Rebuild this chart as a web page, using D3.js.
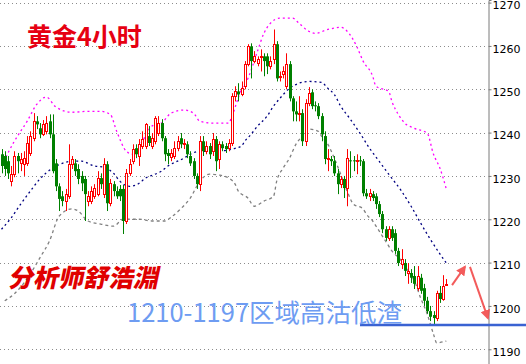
<!DOCTYPE html>
<html>
<head>
<meta charset="utf-8">
<script src="https://cdn.jsdelivr.net/npm/d3@7"></script>
<style>
  body { margin: 0; background: #fff; }
  svg { display: block; }
</style>
</head>
<body>
<svg id="chart" width="526" height="364"></svg>
<script>
// gold 4h candles
const opens = [1235.0,1234.6,1233.4,1228.8,1230.4,1234.6,1232.9,1232.7,1232.9,1235.3,
  1238.7,1242.6,1241.0,1239.6,1240.3,1242.6,1239.6,1232.9,1227.6,1225.3,
  1224.2,1225.3,1232.7,1232.9,1231.6,1230.0,1229.3,1224.2,1224.2,1225.3,
  1225.8,1229.5,1225.8,1232.7,1223.7,1228.1,1226.5,1227.0,1227.0,1219.6,
  1230.6,1233.4,1236.4,1234.6,1236.9,1236.9,1239.2,1236.9,1238.0,1239.9,
  1242.2,1238.7,1235.3,1234.3,1234.6,1236.4,1238.7,1237.3,1237.3,1234.6,
  1233.4,1230.0,1228.1,1238.0,1235.7,1236.9,1235.7,1238.5,1233.9,1237.3,
  1236.9,1236.4,1237.6,1248.4,1249.5,1248.8,1250.7,1255.8,1259.9,1256.5,
  1256.0,1257.4,1257.6,1257.6,1255.3,1256.9,1260.4,1252.8,1253.5,1250.7,
  1255.8,1247.9,1244.9,1244.2,1244.5,1238.0,1246.8,1249.3,1246.3,1246.1,
  1243.8,1239.2,1233.9,1233.9,1233.4,1230.6,1228.1,1229.3,1227.2,1233.6,
  1233.6,1233.4,1233.6,1233.4,1226.0,1225.3,1225.8,1225.3,1223.5,1221.2,
  1217.7,1215.7,1217.7,1216.8,1212.7,1209.7,1209.9,1207.6,1207.6,1206.9,
  1204.1,1206.5,1204.1,1201.2,1198.8,1197.9,1197.2,1203.0,1201.6,1204.8];
const highs = [1236.2,1235.7,1234.6,1232.3,1235.7,1235.3,1235.3,1235.7,1239.2,1240.3,
  1244.5,1243.8,1242.2,1242.9,1243.8,1244.2,1244.2,1233.9,1228.3,1226.5,
  1227.0,1237.3,1234.6,1233.9,1232.7,1231.1,1230.0,1226.5,1227.6,1228.1,
  1231.1,1230.6,1234.1,1233.4,1229.3,1228.8,1227.6,1227.9,1227.9,1231.6,
  1233.9,1237.3,1237.3,1238.5,1240.3,1242.2,1241.5,1239.9,1243.8,1243.8,
  1243.1,1239.2,1236.2,1236.2,1238.0,1239.2,1239.9,1238.5,1238.0,1235.7,
  1234.1,1230.6,1239.2,1239.2,1238.0,1237.6,1239.9,1239.2,1238.0,1238.0,
  1237.6,1238.5,1249.1,1250.7,1251.4,1251.8,1256.5,1260.4,1260.6,1258.8,
  1257.6,1259.2,1258.3,1258.3,1257.6,1263.8,1261.1,1254.1,1255.3,1258.3,
  1256.5,1248.4,1247.2,1248.4,1245.4,1247.7,1250.5,1250.0,1247.2,1246.8,
  1244.5,1240.3,1236.2,1234.6,1234.6,1231.6,1230.0,1230.0,1236.2,1235.7,
  1234.6,1235.0,1234.6,1233.9,1227.0,1227.0,1226.5,1226.0,1224.2,1221.9,
  1218.4,1218.4,1218.4,1217.7,1213.4,1213.1,1210.8,1209.9,1208.5,1209.2,
  1209.2,1207.4,1205.1,1202.1,1200.0,1198.8,1203.5,1204.6,1207.1,1206.2];
const lows = [1230.6,1230.0,1229.3,1227.6,1229.7,1230.6,1231.1,1230.0,1232.3,1234.6,
  1238.0,1240.8,1238.7,1239.2,1239.6,1238.7,1230.6,1226.5,1221.9,1223.0,
  1221.9,1224.7,1231.6,1230.0,1228.1,1226.5,1219.6,1223.0,1223.5,1224.7,
  1225.3,1227.0,1224.9,1221.9,1223.0,1225.3,1224.7,1224.2,1216.6,1218.9,
  1230.0,1232.7,1234.1,1232.3,1236.2,1236.2,1236.9,1236.2,1237.3,1239.2,
  1238.0,1233.4,1232.7,1233.4,1233.9,1235.7,1236.4,1236.2,1234.1,1232.3,
  1229.3,1227.0,1226.5,1234.6,1235.0,1233.9,1234.6,1231.1,1231.6,1235.7,
  1235.3,1235.7,1236.9,1247.2,1247.2,1248.4,1250.0,1255.3,1252.5,1256.0,
  1255.3,1254.1,1253.0,1253.5,1254.6,1255.8,1251.8,1251.8,1252.5,1250.0,
  1247.2,1242.6,1242.6,1242.6,1236.9,1236.9,1246.1,1245.4,1244.9,1243.1,
  1238.0,1232.7,1231.1,1232.3,1230.0,1225.8,1227.2,1224.9,1223.0,1229.5,
  1231.1,1230.4,1232.3,1225.3,1224.7,1224.2,1224.2,1222.4,1220.5,1216.8,
  1215.0,1215.0,1215.0,1212.0,1209.2,1208.5,1206.9,1205.1,1205.3,1203.9,
  1203.5,1202.8,1200.0,1198.2,1196.5,1195.4,1196.5,1200.7,1201.2,1204.6];
const closes = [1232.3,1231.6,1230.6,1230.4,1234.6,1233.4,1233.9,1234.1,1237.6,1239.2,
  1242.6,1241.9,1239.6,1241.9,1242.2,1239.6,1231.1,1227.6,1224.7,1224.2,
  1225.8,1232.7,1233.9,1231.1,1229.3,1228.3,1225.8,1225.3,1226.5,1227.2,
  1229.5,1228.1,1232.7,1223.7,1228.3,1226.5,1225.3,1225.3,1219.6,1230.6,
  1232.7,1236.2,1235.0,1237.3,1238.5,1241.9,1237.6,1238.7,1243.3,1242.2,
  1238.7,1235.0,1234.6,1235.3,1236.4,1238.0,1237.3,1237.6,1235.0,1232.9,
  1230.0,1228.1,1238.0,1235.7,1236.9,1235.0,1238.5,1233.4,1237.3,1236.4,
  1236.2,1237.6,1248.4,1249.5,1248.8,1250.2,1255.8,1259.9,1256.5,1257.6,
  1256.9,1257.6,1256.5,1255.3,1256.5,1260.4,1252.5,1253.0,1254.1,1255.8,
  1247.9,1244.9,1244.2,1244.5,1238.0,1246.8,1249.1,1246.1,1246.1,1243.8,
  1239.6,1233.9,1234.1,1233.4,1230.6,1228.1,1229.3,1227.2,1234.1,1233.4,
  1233.4,1233.6,1233.4,1226.0,1225.3,1226.0,1224.9,1223.5,1221.2,1217.7,
  1215.7,1217.7,1215.7,1212.7,1209.9,1210.8,1208.1,1208.1,1206.5,1205.1,
  1206.9,1203.5,1201.2,1198.8,1197.5,1197.2,1203.0,1201.6,1204.6,1205.1];

// bollinger bands, [candle index, price]
const upperBand = [[0,1232.3],[4,1238.0],[8,1242.6],[11,1246.5],[14,1248.2],[17,1245.9],[22,1244.7],
  [27,1244.9],[31,1244.9],[34,1244.2],[36,1240.3],[39,1235.7],[41,1235.0],[44,1238.0],[47,1241.5],
  [50,1242.2],[53,1244.5],[57,1245.2],[60,1244.5],[62,1242.6],[66,1242.2],[71,1242.2],[72,1243.8],
  [75,1250.0],[77,1252.5],[80,1258.8],[82,1262.9],[84,1265.2],[87,1266.4],[91,1266.4],[93,1265.2],
  [96,1263.4],[98,1262.9],[102,1263.8],[106,1264.3],[108,1263.4],[111,1259.9],[113,1256.5],
  [116,1253.0],[117,1250.7],[121,1249.5],[122,1247.2],[124,1244.2],[126,1242.2],[129,1241.0],
  [133,1239.9],[135,1235.0],[137,1231.8],[139,1227.0]];
const middleBand = [[0,1217.7],[3,1220.3],[6,1223.5],[9,1226.5],[12,1229.3],[16,1231.8],[19,1232.9],
  [22,1233.4],[25,1233.4],[29,1232.3],[32,1232.0],[35,1230.6],[37,1228.8],[40,1227.6],[43,1228.3],
  [45,1229.5],[48,1230.4],[50,1231.1],[52,1232.3],[55,1233.4],[57,1234.1],[59,1235.0],[62,1235.7],
  [67,1235.7],[72,1236.2],[75,1236.9],[76,1238.0],[78,1239.6],[80,1241.5],[83,1243.8],[85,1246.1],
  [87,1247.9],[90,1250.2],[93,1251.4],[96,1251.8],[100,1251.6],[102,1250.2],[104,1248.8],[106,1246.1],
  [109,1243.1],[112,1239.9],[115,1236.4],[118,1233.4],[121,1230.4],[125,1226.5],[128,1223.0],
  [131,1219.1],[134,1215.4],[137,1212.0],[139,1209.9]];
const lowerBand = [[1,1201.2],[4,1202.8],[9,1207.4],[12,1211.1],[15,1215.0],[18,1220.7],[22,1222.4],
  [24,1221.9],[27,1219.6],[31,1218.9],[35,1218.4],[38,1220.0],[43,1220.0],[47,1219.6],[51,1219.6],
  [53,1220.5],[56,1222.4],[59,1224.9],[62,1228.8],[65,1230.4],[68,1230.2],[71,1229.5],[73,1228.1],
  [74,1226.5],[77,1224.9],[79,1223.0],[82,1224.2],[85,1225.3],[86,1228.8],[88,1231.8],[90,1234.1],
  [92,1237.3],[94,1239.2],[96,1240.8],[99,1240.3],[100,1239.2],[102,1237.3],[104,1234.1],[106,1230.4],
  [108,1226.5],[110,1223.5],[113,1222.4],[114,1221.2],[116,1219.6],[118,1217.3],[120,1215.0],
  [122,1212.7],[125,1210.4],[127,1208.1],[129,1205.8],[131,1201.8],[133,1198.2],[135,1193.5],
  [136,1191.5],[139,1191.9]];

const priceTicks = [1190, 1200, 1210, 1220, 1230, 1240, 1250, 1260, 1270];

// annotations: [index, price] pairs
const supportLevel = 1195.6;
const arrowUp = [[140.8, 1204.8], [144.8, 1209.0]];
const arrowDown = [[146.4, 1209.0], [152, 1197.2]];

const W = 526, H = 364, axisX = 488;
const svg = d3.select("#chart");

const x = d3.scaleLinear().domain([0, opens.length - 1]).range([1.5, 446.3]);
const y = d3.scaleLinear().domain([1186.6, 1270.6]).range([H, 0]);

// grid
svg.append("g")
  .selectAll("line")
  .data(priceTicks)
  .join("line")
  .attr("x1", 0)
  .attr("x2", axisX)
  .attr("y1", (d) => Math.round(y(d)) + 0.5)
  .attr("y2", (d) => Math.round(y(d)) + 0.5)
  .attr("stroke", "#8c8c8c")
  .attr("stroke-dasharray", "1,3");

svg.append("defs").append("clipPath").attr("id", "plot")
  .append("rect").attr("width", axisX).attr("height", H);

const plot = svg.append("g").attr("clip-path", "url(#plot)");

// bands
const band = d3.line()
  .x((d) => x(d[0]))
  .y((d) => y(d[1]))
  .curve(d3.curveMonotoneX);

plot.append("path").attr("d", band(upperBand))
  .attr("fill", "none").attr("stroke", "#ff00ff").attr("stroke-width", 1.3)
  .attr("stroke-dasharray", "2,3");
plot.append("path").attr("d", band(middleBand))
  .attr("fill", "none").attr("stroke", "#000080").attr("stroke-width", 1.3)
  .attr("stroke-dasharray", "2,3");
plot.append("path").attr("d", band(lowerBand))
  .attr("fill", "none").attr("stroke", "#808080").attr("stroke-width", 1.3)
  .attr("stroke-dasharray", "3,3");

// candles
const idx = d3.range(opens.length);
const up = (i) => closes[i] >= opens[i];
const cx = (i) => Math.round(x(i));

const candles = plot.append("g").selectAll("g").data(idx).join("g");

candles.append("line")
  .attr("x1", (i) => cx(i) + 0.5)
  .attr("x2", (i) => cx(i) + 0.5)
  .attr("y1", (i) => y(highs[i]))
  .attr("y2", (i) => y(lows[i]))
  .attr("stroke", (i) => (up(i) ? "#ff0000" : "#008000"));

candles.filter((i) => !up(i)).append("rect")
  .attr("x", (i) => cx(i) - 1)
  .attr("width", 3)
  .attr("y", (i) => y(opens[i]))
  .attr("height", (i) => Math.max(1, y(closes[i]) - y(opens[i])))
  .attr("fill", "#008000");

candles.filter((i) => up(i)).append("rect")
  .attr("x", (i) => cx(i) - 0.5)
  .attr("width", 2)
  .attr("y", (i) => Math.round(y(closes[i])) + 0.5)
  .attr("height", (i) => Math.max(0.01, Math.round(y(opens[i]) - y(closes[i]))))
  .attr("fill", "#fff")
  .attr("stroke", "#ff0000");

// right price axis
const axis = d3.axisRight(y)
  .tickValues(priceTicks)
  .tickFormat(d3.format("d"))
  .tickSize(3)
  .tickPadding(1);
const ag = svg.append("g").attr("transform", `translate(${axisX + 0.5},0)`).call(axis);
ag.select(".domain").attr("stroke", "#7a7a7a");
ag.selectAll(".tick line").attr("stroke", "#7a7a7a");
ag.selectAll(".tick text")
  .attr("dy", "0.58em")
  .attr("fill", "#000")
  .style("font-family", "'DejaVu Sans', sans-serif")
  .style("font-size", "11px");

// support line
svg.append("line")
  .attr("x1", 360)
  .attr("x2", W)
  .attr("y1", y(supportLevel))
  .attr("y2", y(supportLevel))
  .attr("stroke", "#3a62d2")
  .attr("stroke-width", 2.3);

// arrows
const arrowColor = "#f24a4a";
svg.append("defs").append("marker")
  .attr("id", "head")
  .attr("viewBox", "0 0 10 10")
  .attr("refX", 8).attr("refY", 5)
  .attr("markerWidth", 5).attr("markerHeight", 5)
  .attr("orient", "auto")
  .append("path").attr("d", "M0,0 L10,5 L0,10 z").attr("fill", arrowColor);

const arrowLine = d3.line().x((d) => x(d[0])).y((d) => y(d[1]));
[arrowUp, arrowDown].forEach((a) => {
  svg.append("path")
    .attr("d", arrowLine(a))
    .attr("stroke", arrowColor)
    .attr("stroke-width", 2)
    .attr("opacity", 0.9)
    .attr("fill", "none")
    .attr("marker-end", "url(#head)");
});

// texts
svg.append("text")
  .attr("x", 27).attr("y", 46)
  .attr("fill", "#e60012")
  .style("font-family", "'Noto Sans CJK SC', sans-serif")
  .style("font-weight", 700)
  .style("font-size", "25px")
  .text("黄金4小时");

svg.append("text")
  .attr("transform", "translate(8,287) skewX(-12)")
  .attr("fill", "#e00000")
  .style("font-family", "'Noto Sans CJK SC', sans-serif")
  .style("font-weight", 900)
  .style("font-size", "25px")
  .text("分析师舒浩淵");

svg.append("text")
  .attr("x", 127).attr("y", 322)
  .attr("fill", "#6e9cf2")
  .style("font-family", "'Noto Sans CJK SC', sans-serif")
  .style("font-size", "25.5px")
  .text("1210-1197区域高沽低渣");
</script>
</body>
</html>
